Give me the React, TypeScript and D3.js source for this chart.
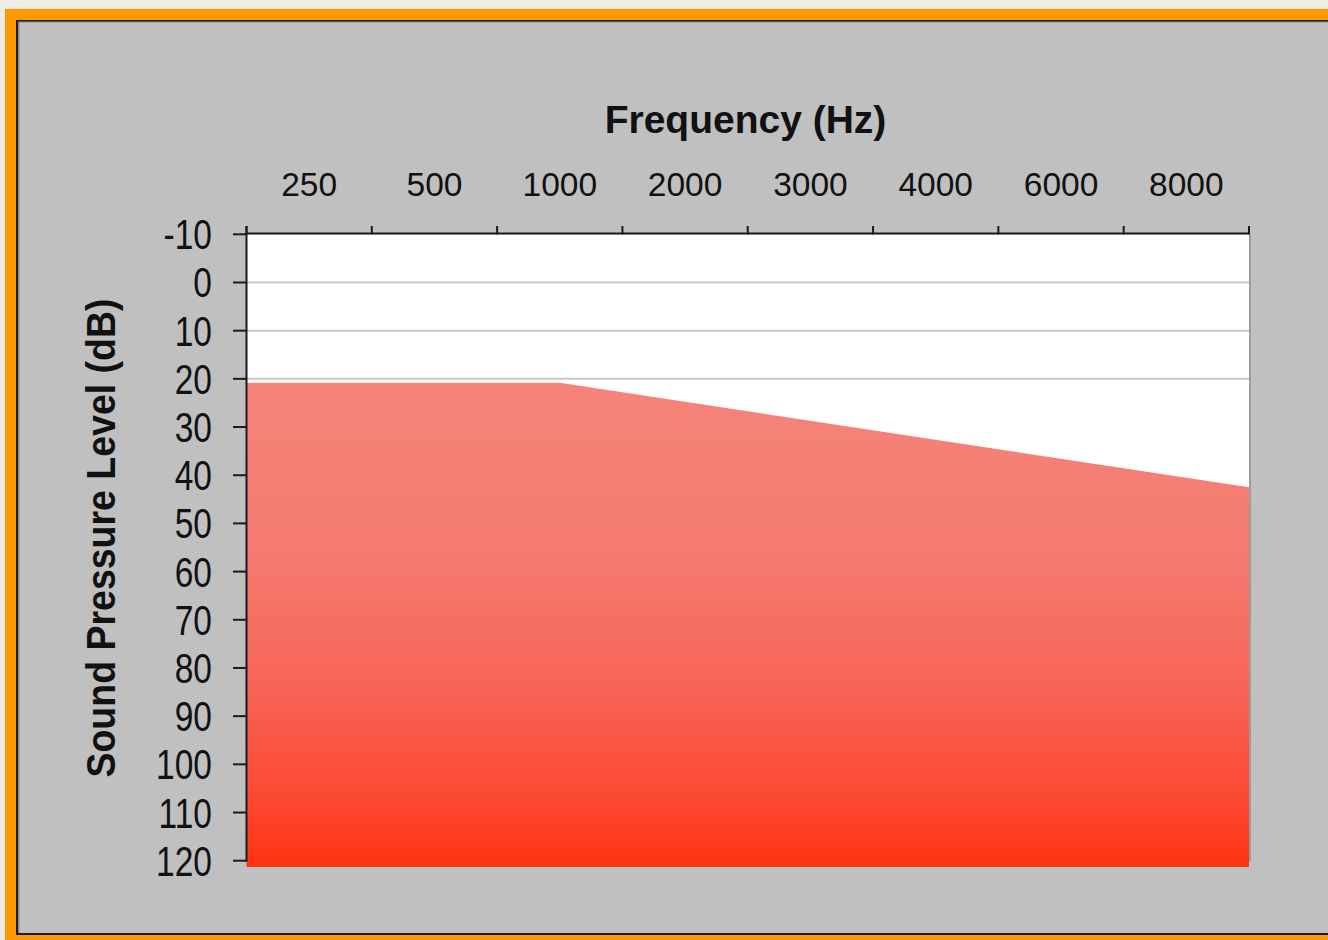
import React from "react";
import * as d3 from "d3";

// ---- Data ----
const frequencies = ["250", "500", "1000", "2000", "3000", "4000", "6000", "8000"];
const dbTicks = [-10, 0, 10, 20, 30, 40, 50, 60, 70, 80, 90, 100, 110, 120];
const gridValues = [0, 10, 20];
// boundary of the shaded region: position along category axis (in bands) and level (dB)
const boundaryPos = [0, 2.5, 8];
const boundaryDb = [20.8, 20.8, 42.5];
const fillBaseDb = 121.3;

const W = 1328;
const H = 940;
const left = 246.5;
const right = 1249;
const top = 234.3;
const bottom = 860.7;

export default function App() {
  const xBand = d3.scaleBand<string>().domain(frequencies).range([left, right]).padding(0);
  const xPos = d3.scaleLinear().domain([0, frequencies.length]).range([left, right]);
  const y = d3.scaleLinear().domain([-10, 120]).range([top, bottom]);

  const pts = boundaryPos.map((p, i) => ({ p, v: boundaryDb[i] }));
  const areaPath = d3
    .area<{ p: number; v: number }>()
    .x((d) => xPos(d.p))
    .y0(() => y(fillBaseDb))
    .y1((d) => y(d.v))(pts) as string;

  const tickXs = d3.range(frequencies.length + 1).map((i) => xPos(i));
  const font = "'Liberation Sans', Arial, sans-serif";

  return (
    <svg width={W} height={H} style={{ position: "absolute", left: 0, top: 0 }}>
      <defs>
        <linearGradient id="redGrad" x1="0" y1="0" x2="0" y2="1">
          <stop offset="0" stopColor="#f5847a" />
          <stop offset="0.35" stopColor="#f57a6f" />
          <stop offset="0.6" stopColor="#f7675a" />
          <stop offset="0.85" stopColor="#fc4a34" />
          <stop offset="1" stopColor="#ff3311" />
        </linearGradient>
      </defs>
      {/* frame */}
      <rect x={0} y={0} width={W} height={H} fill="#efede1" />
      <rect x={5} y={9} width={W} height={H} fill="#ff9900" />
      <rect x={16} y={20} width={W} height={915} fill="#1c1c1c" />
      <rect x={18} y={21.5} width={W} height={911.5} fill="#8c8c8c" />
      <rect x={19.5} y={22.5} width={W} height={910.5} fill="#c0c0c0" />

      {/* plot area */}
      <rect x={left} y={top} width={right - left} height={bottom - top} fill="#ffffff" />
      {gridValues.map((v) => (
        <line key={v} x1={left} x2={right} y1={y(v)} y2={y(v)} stroke="#c8c8c8" strokeWidth={2} />
      ))}
      <path d={areaPath} fill="url(#redGrad)" />
      <line x1={right + 1} x2={right + 1} y1={top} y2={bottom + 1} stroke="#9c9c9c" strokeWidth={2} />

      {/* axes */}
      <line x1={left} x2={right + 1} y1={top - 0.8} y2={top - 0.8} stroke="#1a1a1a" strokeWidth={2} />
      {tickXs.map((tx, i) => (
        <line key={i} x1={tx} x2={tx} y1={226} y2={top} stroke="#1a1a1a" strokeWidth={2} />
      ))}
      <line x1={left} x2={left} y1={226} y2={bottom + 1} stroke="#1a1a1a" strokeWidth={2} />
      {dbTicks.map((v) => (
        <line key={v} x1={233} x2={left} y1={y(v)} y2={y(v)} stroke="#1a1a1a" strokeWidth={2} />
      ))}

      {/* x labels */}
      {frequencies.map((f) => (
        <text
          key={f}
          x={(xBand(f) as number) + xBand.bandwidth() / 2}
          y={196}
          textAnchor="middle"
          fontFamily={font}
          fontSize={33.5}
          fill="#111"
        >
          {f}
        </text>
      ))}
      {/* y labels */}
      {dbTicks.map((v) => (
        <g key={v} transform={`translate(212, ${y(v)}) scale(1, 1.25)`}>
          <text x={0} y={12} textAnchor="end" fontFamily={font} fontSize={33.5} fill="#111">
            {v === -10 ? "-10" : String(v)}
          </text>
        </g>
      ))}

      {/* titles */}
      <text x={745.5} y={132.7} textAnchor="middle" fontFamily={font} fontWeight="bold" fontSize={39} fill="#111">
        Frequency (Hz)
      </text>
      <g transform="translate(115, 538) rotate(-90) scale(1, 1.1)">
        <text x={0} y={0} textAnchor="middle" fontFamily={font} fontWeight="bold" fontSize={37.5} fill="#111">
          Sound Pressure Level (dB)
        </text>
      </g>
    </svg>
  );
}
